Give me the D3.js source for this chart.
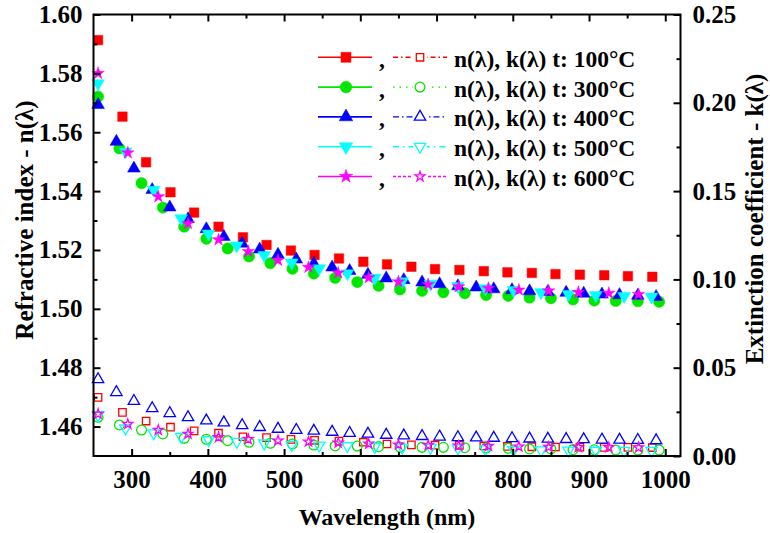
<!DOCTYPE html>
<html>
<head>
<meta charset="utf-8">
<script src="https://cdn.jsdelivr.net/npm/d3@7"></script>
<style>
  body { margin: 0; background: #fff; }
  text { font-family: "Liberation Serif", "Times New Roman", serif; font-weight: bold; }
</style>
</head>
<body>
<svg id="chart" width="770" height="533"></svg>
<script>
// wavelengths (nm) for each sample
var wl100 = [256, 288, 319, 351, 382, 414, 446, 477, 509, 540, 572, 604, 635, 667, 698, 730, 762, 793, 825, 856, 888, 920, 951, 983];
var wl300 = [256, 284, 313, 341, 369, 398, 426, 454, 482, 511, 539, 567, 596, 624, 652, 681, 709, 737, 765, 794, 822, 850, 879, 907, 935, 964, 992];
var wl400 = [256, 280, 303, 327, 350, 374, 398, 421, 445, 468, 492, 516, 539, 563, 586, 610, 634, 657, 681, 704, 728, 752, 775, 799, 822, 846, 870, 893, 917, 940, 964, 988];
var wl500 = [256, 292, 329, 365, 401, 438, 474, 510, 546, 583, 619, 655, 692, 728, 764, 801, 837, 873, 909, 946, 982];
var wl600 = [256, 295, 335, 374, 414, 453, 492, 532, 571, 611, 650, 689, 729, 768, 808, 847, 886, 926, 965];

// refractive index n
var n100 = [1.5913, 1.5653, 1.5498, 1.5396, 1.5327, 1.5279, 1.5243, 1.5217, 1.5198, 1.5183, 1.5171, 1.5160, 1.5151, 1.5143, 1.5135, 1.5132, 1.5128, 1.5124, 1.5122, 1.5118, 1.5116, 1.5114, 1.5111, 1.5109];
var n300 = [1.5721, 1.5545, 1.5427, 1.5344, 1.5279, 1.5238, 1.5205, 1.5178, 1.5155, 1.5136, 1.5120, 1.5105, 1.5091, 1.5078, 1.5066, 1.5061, 1.5056, 1.5053, 1.5047, 1.5044, 1.5038, 1.5036, 1.5032, 1.5028, 1.5027, 1.5026, 1.5024];
var n400 = [1.5693, 1.5568, 1.5477, 1.5404, 1.5345, 1.5305, 1.5271, 1.5245, 1.5222, 1.5202, 1.5184, 1.5168, 1.5154, 1.5141, 1.5129, 1.5116, 1.5104, 1.5098, 1.5090, 1.5084, 1.5077, 1.5073, 1.5067, 1.5064, 1.5060, 1.5058, 1.5055, 1.5052, 1.5049, 1.5047, 1.5045, 1.5041];
var n500 = [1.5766, 1.5534, 1.5404, 1.5307, 1.5255, 1.5215, 1.5182, 1.5157, 1.5137, 1.5120, 1.5105, 1.5093, 1.5085, 1.5077, 1.5069, 1.5063, 1.5056, 1.5050, 1.5046, 1.5043, 1.5041];
var n600 = [1.5800, 1.5530, 1.5381, 1.5290, 1.5235, 1.5195, 1.5165, 1.5141, 1.5122, 1.5106, 1.5092, 1.5083, 1.5075, 1.5070, 1.5064, 1.5061, 1.5056, 1.5053, 1.5049];

// extinction coefficient k
var k100 = [0.0332, 0.0247, 0.0198, 0.0163, 0.0142, 0.0129, 0.0109, 0.0104, 0.0094, 0.0089, 0.0084, 0.0078, 0.0068, 0.0063, 0.0061, 0.0060, 0.0057, 0.0054, 0.0052, 0.0051, 0.0050, 0.0049, 0.0049, 0.0048];
var k300 = [0.0219, 0.0176, 0.0147, 0.0125, 0.0100, 0.0095, 0.0087, 0.0078, 0.0072, 0.0068, 0.0062, 0.0057, 0.0056, 0.0053, 0.0051, 0.0049, 0.0049, 0.0047, 0.0045, 0.0044, 0.0040, 0.0040, 0.0036, 0.0035, 0.0034, 0.0034, 0.0034];
var k400 = [0.0434, 0.0361, 0.0311, 0.0270, 0.0242, 0.0219, 0.0200, 0.0189, 0.0174, 0.0163, 0.0153, 0.0147, 0.0142, 0.0136, 0.0130, 0.0125, 0.0119, 0.0115, 0.0112, 0.0109, 0.0106, 0.0104, 0.0102, 0.0100, 0.0098, 0.0097, 0.0095, 0.0094, 0.0092, 0.0091, 0.0090, 0.0088];
var k500 = [0.0232, 0.0157, 0.0129, 0.0109, 0.0091, 0.0081, 0.0072, 0.0064, 0.0060, 0.0057, 0.0052, 0.0049, 0.0047, 0.0044, 0.0039, 0.0035, 0.0033, 0.0032, 0.0031, 0.0030, 0.0030];
var k600 = [0.0238, 0.0181, 0.0147, 0.0125, 0.0106, 0.0095, 0.0087, 0.0081, 0.0075, 0.0069, 0.0064, 0.0061, 0.0058, 0.0056, 0.0053, 0.0051, 0.0050, 0.0049, 0.0048];

var temps = ["100", "300", "400", "500", "600"];
var xTicks = [300, 400, 500, 600, 700, 800, 900, 1000];
var nTicks = [1.46, 1.48, 1.50, 1.52, 1.54, 1.56, 1.58, 1.60];
var kTicks = [0.00, 0.05, 0.10, 0.15, 0.20, 0.25];

(function () {
    var series = [
        { wl: wl100, n: n100, k: k100, color: "#ff0000", shape: d3.symbolSquare, flip: false, sn: 90, sk: 55, dash: "5,3,1.5,3" },
        { wl: wl300, n: n300, k: k300, color: "#00e600", shape: d3.symbolCircle, flip: false, sn: 100, sk: 75, dash: "1.5,5" },
        { wl: wl400, n: n400, k: k400, color: "#0000ff", shape: d3.symbolTriangle, flip: false, sn: 70, sk: 56, dash: "6,3,1.5,3" },
        { wl: wl500, n: n500, k: k500, color: "#00ffff", shape: d3.symbolTriangle, flip: true, sn: 70, sk: 56, dash: "6,4,1.5,4" },
        { wl: wl600, n: n600, k: k600, color: "#ff00ff", shape: d3.symbolStar, flip: false, sn: 48, sk: 30, dash: "3,2" }
    ];

    var svg = d3.select("#chart"),
        mLeft = 93.5, mRight = 680.5, mTop = 14.5, mBottom = 456;

    var x = d3.scaleLinear().domain([250, 1020]).range([mLeft, mRight]);
    var yn = d3.scaleLinear().domain([1.45, 1.60]).range([mBottom, mTop]);
    var yk = d3.scaleLinear().domain([0, 0.25]).range([mBottom, mTop]);

    function marker(g, s, size, filled, cx, cy) {
        g.append("path")
            .attr("d", d3.symbol().type(s.shape).size(size)())
            .attr("transform", "translate(" + cx + "," + cy + ")" + (s.flip ? " rotate(180)" : ""))
            .attr("fill", filled ? s.color : "none")
            .attr("stroke", s.color)
            .attr("stroke-width", filled ? 0.5 : 1.3);
    }

    // data points (k open, n filled)
    var plot = svg.append("g");
    series.forEach(function (s) {
        var gk = plot.append("g");
        s.wl.forEach(function (w, i) { marker(gk, s, s.sk, false, x(w), yk(s.k[i])); });
    });
    series.forEach(function (s) {
        var gn = plot.append("g");
        s.wl.forEach(function (w, i) { marker(gn, s, s.sn, true, x(w), yn(s.n[i])); });
    });

    // axes
    function styleAxis(g) {
        g.select(".domain").remove();
        g.selectAll("line").attr("stroke", "#000").attr("stroke-width", 2);
        g.selectAll("text").attr("font-size", "25px").attr("fill", "#000");
    }
    var xMinor = [350, 450, 550, 650, 750, 850, 950];
    svg.append("g").attr("transform", "translate(0," + mBottom + ")")
        .call(d3.axisBottom(x).tickValues(xTicks).tickSize(-7).tickPadding(14).tickFormat(d3.format("d"))).call(styleAxis);
    svg.append("g").attr("transform", "translate(0," + mBottom + ")")
        .call(d3.axisBottom(x).tickValues(xMinor).tickSize(-4).tickFormat("")).call(styleAxis);
    svg.append("g").attr("transform", "translate(0," + mTop + ")")
        .call(d3.axisTop(x).tickValues(xTicks).tickSize(-7).tickFormat("")).call(styleAxis);
    svg.append("g").attr("transform", "translate(0," + mTop + ")")
        .call(d3.axisTop(x).tickValues(xMinor).tickSize(-4).tickFormat("")).call(styleAxis);

    svg.append("g").attr("transform", "translate(" + mLeft + ",0)")
        .call(d3.axisLeft(yn).tickValues(nTicks).tickSize(-7).tickPadding(11).tickFormat(d3.format(".2f"))).call(styleAxis);
    svg.append("g").attr("transform", "translate(" + mLeft + ",0)")
        .call(d3.axisLeft(yn).tickValues([1.47, 1.49, 1.51, 1.53, 1.55, 1.57, 1.59]).tickSize(-4).tickFormat("")).call(styleAxis);

    svg.append("g").attr("transform", "translate(" + mRight + ",0)")
        .call(d3.axisRight(yk).tickValues(kTicks).tickSize(-7).tickPadding(12).tickFormat(d3.format(".2f"))).call(styleAxis);
    svg.append("g").attr("transform", "translate(" + mRight + ",0)")
        .call(d3.axisRight(yk).tickValues([0.025, 0.075, 0.125, 0.175, 0.225]).tickSize(-4).tickFormat("")).call(styleAxis);

    // frame
    svg.append("rect")
        .attr("x", mLeft).attr("y", mTop)
        .attr("width", mRight - mLeft).attr("height", mBottom - mTop)
        .attr("fill", "none").attr("stroke", "#000").attr("stroke-width", 2);

    // axis titles
    svg.append("text").attr("x", (mLeft + mRight) / 2).attr("y", 525)
        .attr("text-anchor", "middle").attr("font-size", "24px").text("Wavelength (nm)");
    svg.append("text").attr("transform", "translate(33,220) rotate(-90)")
        .attr("text-anchor", "middle").attr("font-size", "25px").text("Refractive index - n(λ)");
    svg.append("text").attr("transform", "translate(763,219) rotate(-90)")
        .attr("text-anchor", "middle").attr("font-size", "25px").text("Extinction coefficient - k(λ)");

    // legend
    var legend = svg.append("g");
    series.forEach(function (s, i) {
        var cy = 57.3 + i * 29.8;
        var row = legend.append("g");
        row.append("line").attr("x1", 318).attr("x2", 372).attr("y1", cy).attr("y2", cy)
            .attr("stroke", s.color).attr("stroke-width", 1.6);
        marker(row, s, s.sn + 10, true, 346, cy);
        row.append("text").attr("x", 379).attr("y", cy + 9.4).attr("font-size", "23.5px").text(",");
        row.append("line").attr("x1", 393).attr("x2", 447).attr("y1", cy).attr("y2", cy)
            .attr("stroke", s.color).attr("stroke-width", 1.4).attr("stroke-dasharray", s.dash);
        row.append("rect").attr("x", 413).attr("y", cy - 7).attr("width", 14).attr("height", 14).attr("fill", "#fff");
        marker(row, s, s.sk, false, 420, cy);
        row.append("text").attr("x", 454).attr("y", cy + 9.4).attr("font-size", "23.5px")
            .text("n(λ), k(λ) t: " + temps[i] + "°C");
    });
})();
</script>
</body>
</html>
